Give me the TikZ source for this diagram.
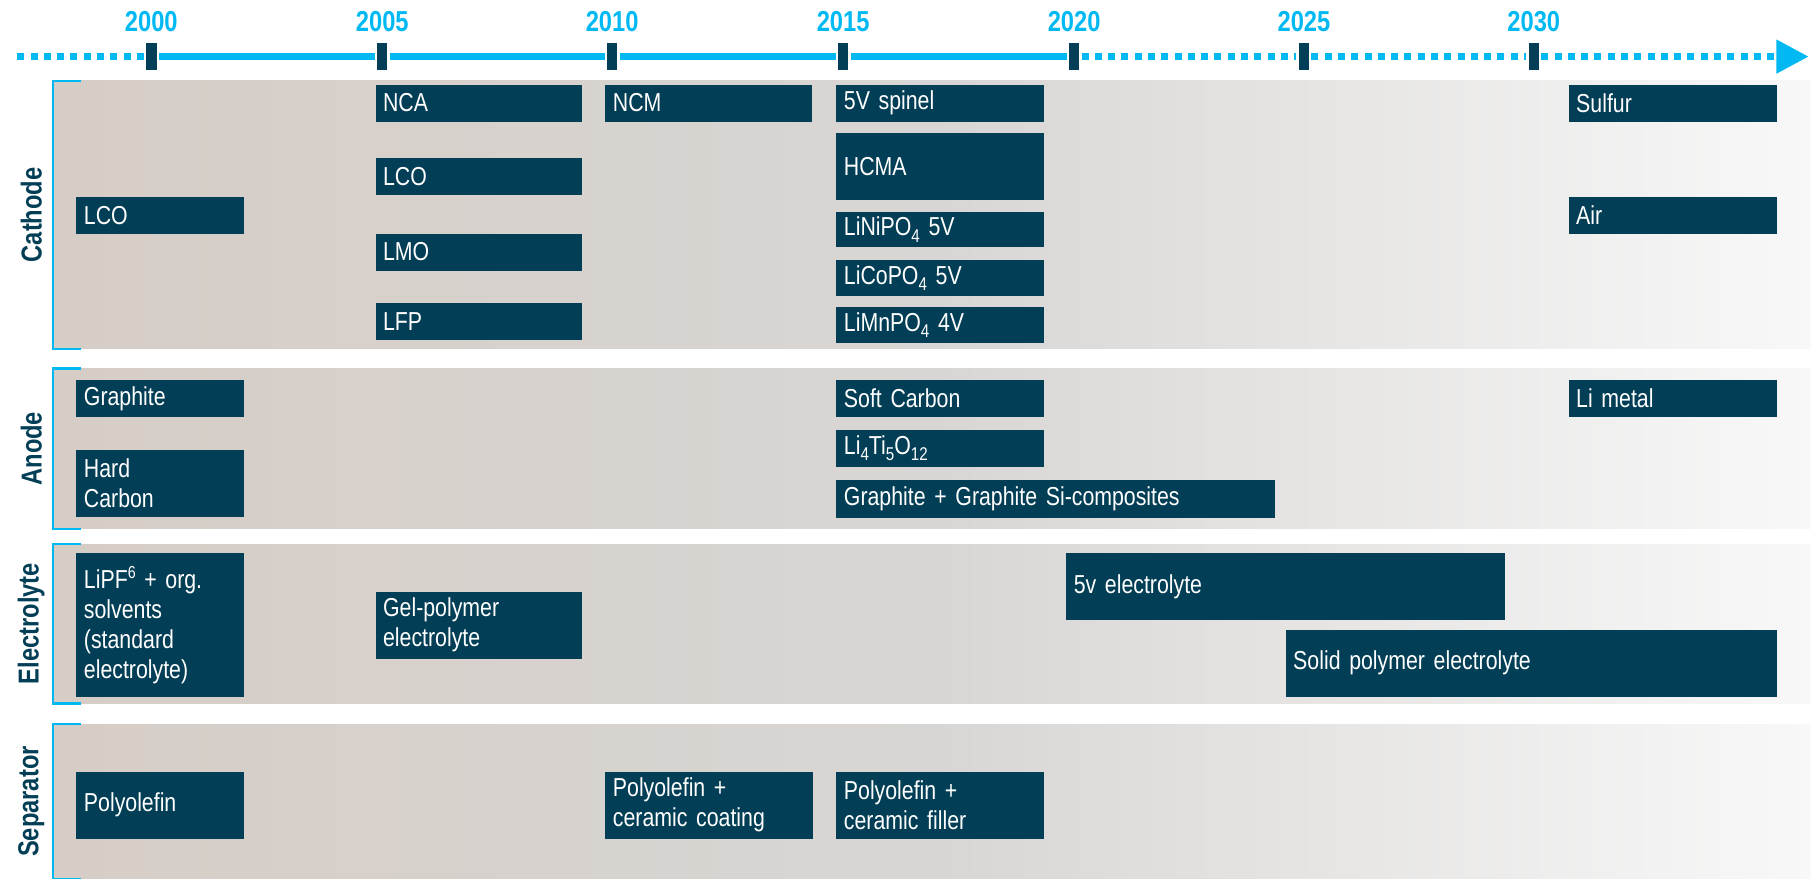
\documentclass[tikz,border=0pt]{standalone}
\usepackage{fontspec}
\setmainfont{Liberation Sans}
\newfontfamily\narrowfont[FakeStretch=0.82]{Liberation Sans}
\usetikzlibrary{arrows.meta}
\definecolor{boxc}{RGB}{2,62,85}
\definecolor{tlc}{RGB}{0,185,242}
\definecolor{panL}{RGB}{214,205,198}
\definecolor{panM}{RGB}{216,214,212}
\definecolor{panR}{RGB}{248,248,248}
\newcommand\sbs[1]{\raisebox{-0.24em}{\fontsize{16}{16}\selectfont #1}}
\newcommand\sps[1]{\raisebox{0.36em}{\fontsize{15}{15}\selectfont #1}}
\newcommand\tb[6]{%
  \pgfmathsetmacro\tbw{#4-#2}\pgfmathsetmacro\tbh{#5-#3}\pgfmathsetmacro\tbt{#4-#2-13}%
  \node[tbox, minimum width=\tbw pt, minimum height=\tbh pt, text width=\tbt pt] (#1) at (#2,#3) {#6};}
\newcommand\panel[4]{%
  \shade[left color=panL, right color=panR, middle color=panM] (47,#2) rectangle (1568,#3);
  \draw[bracket] (70,#2) -- (46,#2) -- (46,#3) -- (70,#3);
  \node[side] (#1) at (27,{(#2+#3)/2}) {#4};}
\tikzset{
  tbox/.style={anchor=north west, fill=boxc, text=white, inner xsep=6.5pt, inner ysep=0pt,
    align=left, font=\narrowfont\fontsize{22.5}{26}\selectfont},
  side/.style={rotate=90, text=boxc, font=\narrowfont\bfseries\fontsize{25}{25}\selectfont},
  bracket/.style={draw=tlc, line width=2.2pt},
  tick/.style={rectangle, fill=boxc, draw=white, line width=2pt, minimum width=11pt,
    minimum height=25pt, inner sep=0pt},
  year/.style={text=tlc, font=\narrowfont\bfseries\fontsize{25}{25}\selectfont},
  tl/.style={draw=tlc, line width=5.8pt},
  dots/.style={dash pattern=on 6pt off 5.5pt}
}
\begin{document}
\begin{tikzpicture}[x=1pt, y=-1pt]
\useasboundingbox (0,0) rectangle (1568,761);
% panels
\panel{lcat}{70}{302}{Cathode}
\panel{lano}{319}{458}{Anode}
\panel{lele}{471}{609}{Electrolyte}
\panel{lsep}{627}{761}{Separator}
% timeline
\foreach \yr/\xx in {2000/131,2005/331,2010/530,2015/730,2020/930,2025/1129,2030/1328}{
  \node[year] (y\yr) at (\xx,19) {\yr};
  \node[tick] (t\yr) at (\xx,49) {};
}
\coordinate (tlstart) at (15,49);
\coordinate (tlend) at (1566,49);
\draw[tl, dots] (tlstart) -- (t2000);
\draw[tl] (t2000) -- (t2005);
\draw[tl] (t2005) -- (t2010);
\draw[tl] (t2010) -- (t2015);
\draw[tl] (t2015) -- (t2020);
\draw[tl, dots] (t2020) -- (t2025);
\draw[tl, dots] (t2025) -- (t2030);
\draw[tl, dots, -{Triangle[length=28pt,width=28pt]}] (t2030) -- (tlend);
% cathode
\tb{c1}{66}{170}{211}{202}{LCO}
\tb{c2}{325}{73}{504}{105}{NCA}
\tb{c3}{325}{137}{504}{169}{LCO}
\tb{c4}{325}{202}{504}{234}{LMO}
\tb{c5}{325}{262}{504}{294}{LFP}
\tb{c6}{524}{73}{703}{105}{NCM}
\tb{c7}{724}{73}{904}{105}{5V spinel}
\tb{c8}{724}{115}{904}{173}{HCMA}
\tb{c9}{724}{183}{904}{214}{LiNiPO\sbs{4} 5V}
\tb{c10}{724}{225}{904}{256}{LiCoPO\sbs{4} 5V}
\tb{c11}{724}{266}{904}{297}{LiMnPO\sbs{4} 4V}
\tb{c12}{1358}{73}{1538}{105}{Sulfur}
\tb{c13}{1358}{170}{1538}{202}{Air}
% anode
\tb{a1}{66}{329}{211}{361}{Graphite}
\tb{a2}{66}{389}{211}{447}{Hard\\Carbon}
\tb{a3}{724}{329}{904}{361}{Soft Carbon}
\tb{a4}{724}{372}{904}{404}{Li\sbs{4}Ti\sbs{5}O\sbs{12}}
\tb{a5}{724}{415}{1104}{448}{Graphite + Graphite Si-composites}
\tb{a6}{1358}{329}{1538}{361}{Li metal}
% electrolyte
\tb{e1}{66}{479}{211}{603}{LiPF\sps{6} + org.\\solvents\\(standard\\electrolyte)}
\tb{e2}{325}{512}{504}{570}{Gel-polymer\\electrolyte}
\tb{e3}{923}{479}{1303}{537}{5v electrolyte}
\tb{e4}{1113}{545}{1538}{603}{Solid polymer electrolyte}
% separator
\tb{s1}{66}{668}{211}{726}{Polyolefin}
\tb{s2}{524}{668}{704}{726}{Polyolefin +\\ceramic coating}
\tb{s3}{724}{668}{904}{726}{Polyolefin +\\ceramic filler}
\end{tikzpicture}
\end{document}
